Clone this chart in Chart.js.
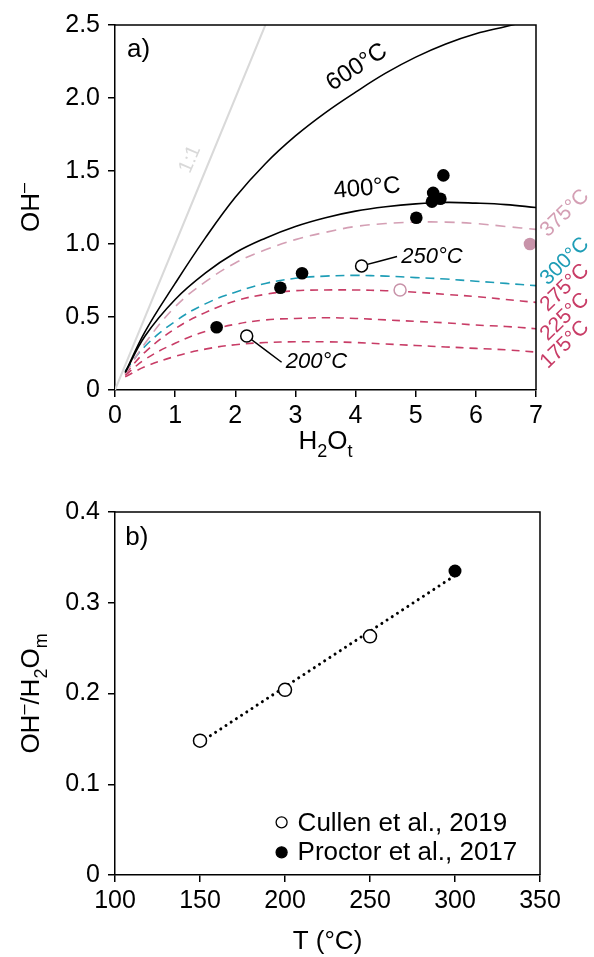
<!DOCTYPE html>
<html>
<head>
<meta charset="utf-8">
<script src="https://cdn.jsdelivr.net/npm/chart.js@4.4.1/dist/chart.umd.min.js"></script>
<style>
  html, body { margin: 0; padding: 0; background: #fff; }
  #wrap { position: relative; width: 594px; height: 957px; }
  #chartA { position: absolute; left: 0; top: 0; }
  #chartB { position: absolute; left: 0; top: 480px; }
</style>
</head>
<body>
<div id="wrap">
  <canvas id="chartA" width="594" height="480"></canvas>
  <canvas id="chartB" width="594" height="477"></canvas>
</div>
<script>
"use strict";

// ── Panel a) data: OH- vs H2Ot ───────────────────────────────────────────────
const LINE_1TO1 = [[0, 0], [2.5, 2.5]];
const CURVE_600 = [[0.17,0.12],[0.5,0.40],[1,0.73],[1.5,1.04],[2,1.32],[2.5,1.55],[3,1.74],[3.5,1.90],[4,2.04],[4.5,2.17],[5,2.28],[5.5,2.37],[6,2.44],[6.5,2.49],[6.7,2.51]];
const CURVE_400 = [[0.17,0.12],[0.5,0.37],[1,0.62],[1.5,0.80],[2,0.94],[2.5,1.04],[3,1.12],[3.5,1.18],[4,1.225],[4.5,1.255],[5,1.275],[5.5,1.285],[6,1.28],[6.5,1.27],[7,1.25]];
const CURVE_375 = [[0.17,0.11],[0.5,0.32],[1,0.57],[1.5,0.74],[2,0.87],[2.5,0.96],[3,1.03],[3.5,1.08],[4,1.12],[4.5,1.14],[5,1.15],[5.5,1.15],[6,1.14],[6.5,1.12],[7,1.10]];
const CURVE_300 = [[0.17,0.13],[0.5,0.30],[1,0.47],[1.5,0.59],[2,0.67],[2.5,0.73],[3,0.765],[3.5,0.78],[4,0.785],[4.5,0.78],[5,0.77],[5.5,0.76],[6,0.745],[6.5,0.73],[7,0.715]];
const CURVE_275 = [[0.17,0.11],[0.5,0.26],[1,0.42],[1.5,0.53],[2,0.61],[2.5,0.655],[3,0.68],[3.5,0.685],[4,0.685],[4.5,0.68],[5,0.67],[5.5,0.655],[6,0.64],[6.5,0.62],[7,0.60]];
const CURVE_225 = [[0.17,0.10],[0.5,0.21],[1,0.32],[1.5,0.40],[2,0.45],[2.5,0.48],[3,0.49],[3.5,0.495],[4,0.49],[4.5,0.48],[5,0.47],[5.5,0.46],[6,0.445],[6.5,0.435],[7,0.42]];
const CURVE_175 = [[0.17,0.09],[0.5,0.16],[1,0.23],[1.5,0.28],[2,0.31],[2.5,0.325],[3,0.33],[3.5,0.33],[4,0.325],[4.5,0.315],[5,0.305],[5.5,0.295],[6,0.285],[6.5,0.275],[7,0.26]];

const PROCTOR_H2O = [1.69, 2.75, 3.11, 5.01, 5.27, 5.29, 5.41, 5.46];
const PROCTOR_OH  = [0.43, 0.70, 0.80, 1.18, 1.29, 1.35, 1.31, 1.47];
const CULLEN_H2O  = [2.19, 4.10];
const CULLEN_OH   = [0.37, 0.85];
const PINK_FILLED = [[6.90, 1.00]];
const PINK_OPEN   = [[4.74, 0.685]];
const LEADER_250  = [[4.10, 0.85], [4.69, 0.915]];
const LEADER_200  = [[2.19, 0.37], [2.77, 0.19]];

const X_TICKS_A = ["0", "1", "2", "3", "4", "5", "6", "7"];
const Y_TICKS_A = ["0", "0.5", "1.0", "1.5", "2.0", "2.5"];
const RIGHT_LABELS = ["375°C", "300°C", "275°C", "225°C", "175°C"];

// ── Panel b) data: OH-/H2Om vs T ─────────────────────────────────────────────
const T_CULLEN      = [150, 200, 250];
const RATIO_CULLEN  = [0.148, 0.204, 0.263];
const T_PROCTOR     = [300];
const RATIO_PROCTOR = [0.335];
const FIT_T         = [150, 300];
const FIT_RATIO     = [0.146, 0.330];
const Y_TICKS_B     = ["0", "0.1", "0.2", "0.3", "0.4"];
const LEGEND_B      = ["Cullen et al., 2019", "Proctor et al., 2017"];

const PINK = "#d49fb4", TEAL = "#1e9db6", RED = "#c83c66", GREY = "#d9d9d9";
const FONT = "'Liberation Sans', Arial, sans-serif";

const pts = arr => arr.map(([x, y]) => ({ x, y }));
const zip = (xs, ys) => xs.map((x, i) => ({ x, y: ys[i] }));

// ── Plugins ──────────────────────────────────────────────────────────────────
// free text placed at data coordinates
const textPlugin = {
  id: "texts",
  afterDatasetsDraw(chart, args, opts) {
    const { ctx, scales: { x, y } } = chart;
    (opts.items || []).forEach(t => {
      ctx.save();
      ctx.translate(x.getPixelForValue(t.x), y.getPixelForValue(t.y));
      ctx.rotate((t.rot || 0) * Math.PI / 180);
      ctx.font = t.font;
      ctx.fillStyle = t.color || "#000";
      ctx.textAlign = t.align || "center";
      ctx.textBaseline = "middle";
      ctx.fillText(t.text, 0, 0);
      ctx.restore();
    });
  },
};

// closes the box (top + right edges)
const boxPlugin = {
  id: "box",
  afterDraw(chart) {
    const { ctx, chartArea: a } = chart;
    ctx.save();
    ctx.strokeStyle = "#000";
    ctx.lineWidth = 1.5;
    ctx.beginPath();
    ctx.moveTo(a.left, a.top);
    ctx.lineTo(a.right, a.top);
    ctx.lineTo(a.right, a.bottom);
    ctx.stroke();
    ctx.restore();
  },
};

// axis titles with sub/superscripts
function drawRich(ctx, parts, cx, cy, rot, size) {
  ctx.save();
  ctx.translate(cx, cy);
  ctx.rotate(rot * Math.PI / 180);
  ctx.fillStyle = "#000";
  ctx.textBaseline = "alphabetic";
  const small = Math.round(size * 0.68);
  let w = 0;
  parts.forEach(p => {
    ctx.font = `${p.s ? small : size}px ${FONT}`;
    w += ctx.measureText(p.t).width;
  });
  let xPos = -w / 2;
  const base = size * 0.36;
  parts.forEach(p => {
    ctx.font = `${p.s ? small : size}px ${FONT}`;
    let dy = 0;
    if (p.s === "sub") dy = size * 0.28;
    if (p.s === "sup") dy = -size * 0.38;
    ctx.fillText(p.t, xPos, base + dy);
    xPos += ctx.measureText(p.t).width;
  });
  ctx.restore();
}

const titlePlugin = {
  id: "titles",
  afterDraw(chart, args, opts) {
    const { ctx, chartArea: a } = chart;
    if (opts.x) drawRich(ctx, opts.x, (a.left + a.right) / 2, a.bottom + opts.xOff, 0, 26);
    if (opts.y) drawRich(ctx, opts.y, 30, (a.top + a.bottom) / 2, -90, 26);
  },
};

// legend for panel b
const legendPlugin = {
  id: "legendB",
  afterDraw(chart, args, opts) {
    if (!opts.items) return;
    const { ctx, scales: { x, y } } = chart;
    opts.items.forEach(it => {
      const px = x.getPixelForValue(it.x), py = y.getPixelForValue(it.y);
      ctx.save();
      ctx.beginPath();
      ctx.arc(px, py, 5.5, 0, Math.PI * 2);
      ctx.fillStyle = it.filled ? "#000" : "#fff";
      ctx.fill();
      ctx.lineWidth = 1.3;
      ctx.strokeStyle = "#000";
      ctx.stroke();
      ctx.font = `26px ${FONT}`;
      ctx.fillStyle = "#000";
      ctx.textAlign = "left";
      ctx.textBaseline = "middle";
      ctx.fillText(it.text, px + 16, py + 1);
      ctx.restore();
    });
  },
};

Chart.register(textPlugin, boxPlugin, titlePlugin, legendPlugin);

function axis(min, max, step, fit, labels, pad) {
  return {
    type: "linear", min, max,
    ticks: {
      stepSize: step, color: "#000", padding: pad,
      font: { size: 25, family: FONT },
      callback: labels ? (v, i) => labels[i] : undefined,
    },
    grid: { drawOnChartArea: false, drawTicks: true, tickLength: 7, color: "#000", lineWidth: 1.5 },
    border: { color: "#000", width: 1.5 },
    afterFit: fit,
  };
}

const lineDs = (data, color, dash, width) => ({
  type: "scatter", data: pts(data), showLine: true, pointRadius: 0,
  borderColor: color, borderWidth: width || 1.6, borderDash: dash || [],
  tension: 0.4, fill: false,
});

// ── Chart a) ─────────────────────────────────────────────────────────────────
new Chart(document.getElementById("chartA"), {
  type: "scatter",
  data: {
    datasets: [
      { data: zip(CULLEN_H2O, CULLEN_OH), pointRadius: 6, pointBackgroundColor: "#fff", pointBorderColor: "#000", pointBorderWidth: 1.5 },
      { data: zip(PROCTOR_H2O, PROCTOR_OH), pointRadius: 6.3, pointBackgroundColor: "#000", pointBorderWidth: 0 },
      { data: pts(PINK_FILLED), pointRadius: 6.3, pointBackgroundColor: "#c893a9", pointBorderWidth: 0 },
      { data: pts(PINK_OPEN), pointRadius: 6, pointBackgroundColor: "#fff", pointBorderColor: "#c893a9", pointBorderWidth: 1.5 },
      lineDs(LEADER_250, "#000", [], 1.5),
      lineDs(LEADER_200, "#000", [], 1.5),
      lineDs(CURVE_600, "#000", [], 1.6),
      lineDs(CURVE_400, "#000", [], 1.6),
      lineDs(CURVE_375, PINK, [10, 7]),
      lineDs(CURVE_300, TEAL, [9, 6]),
      lineDs(CURVE_275, RED, [8, 6]),
      lineDs(CURVE_225, RED, [8, 6]),
      lineDs(CURVE_175, RED, [8, 6]),
      lineDs(LINE_1TO1, GREY, [], 2),
    ],
  },
  options: {
    responsive: false, animation: false, events: [],
    layout: { padding: { left: 0, top: 25, right: 58, bottom: 0 } },
    scales: {
      x: axis(0, 7, 1, s => { s.height = 90; }, X_TICKS_A, 4),
      y: axis(0, 2.5, 0.5, s => { s.width = 115; }, Y_TICKS_A, 8),
    },
    plugins: {
      legend: { display: false }, tooltip: { enabled: false },
      titles: {
        x: [{ t: "H" }, { t: "2", s: "sub" }, { t: "O" }, { t: "t", s: "sub" }], xOff: 50,
        y: [{ t: "OH" }, { t: "–", s: "sup" }],
      },
      texts: {
        items: [
          { text: "a)", x: 0.2, y: 2.33, font: `26px ${FONT}`, align: "left" },
          { text: "1:1", x: 1.25, y: 1.58, rot: -67, font: `20px ${FONT}`, color: GREY },
          { text: "600°C", x: 4.02, y: 2.21, rot: -33, font: `24px ${FONT}` },
          { text: "400°C", x: 4.19, y: 1.38, rot: -5, font: `24px ${FONT}` },
          { text: "250°C", x: 5.27, y: 0.91, font: `italic 22px ${FONT}` },
          { text: "200°C", x: 3.35, y: 0.19, font: `italic 22px ${FONT}` },
          { text: RIGHT_LABELS[0], x: 7.48, y: 1.21, rot: -44, font: `21px ${FONT}`, color: PINK },
          { text: RIGHT_LABELS[1], x: 7.48, y: 0.88, rot: -44, font: `21px ${FONT}`, color: TEAL },
          { text: RIGHT_LABELS[2], x: 7.48, y: 0.70, rot: -44, font: `21px ${FONT}`, color: RED },
          { text: RIGHT_LABELS[3], x: 7.48, y: 0.50, rot: -44, font: `21px ${FONT}`, color: RED },
          { text: RIGHT_LABELS[4], x: 7.48, y: 0.31, rot: -44, font: `21px ${FONT}`, color: RED },
        ],
      },
    },
  },
});

// ── Chart b) ─────────────────────────────────────────────────────────────────
new Chart(document.getElementById("chartB"), {
  type: "scatter",
  data: {
    datasets: [
      { data: zip(T_PROCTOR, RATIO_PROCTOR), pointRadius: 6.5, pointBackgroundColor: "#000", pointBorderWidth: 0 },
      { data: zip(T_CULLEN, RATIO_CULLEN), pointRadius: 6.5, pointBackgroundColor: "#fff", pointBorderColor: "#000", pointBorderWidth: 1.5 },
      {
        type: "scatter", data: zip(FIT_T, FIT_RATIO), showLine: true, pointRadius: 0,
        borderColor: "#000", borderWidth: 3, borderDash: [0.01, 6.2], borderCapStyle: "round",
      },
    ],
  },
  options: {
    responsive: false, animation: false, events: [],
    layout: { padding: { left: 0, top: 32, right: 54, bottom: 0 } },
    scales: {
      x: axis(100, 350, 50, s => { s.height = 82; }, null, 4),
      y: axis(0, 0.4, 0.1, s => { s.width = 115; }, Y_TICKS_B, 8),
    },
    plugins: {
      legend: { display: false }, tooltip: { enabled: false },
      titles: {
        x: [{ t: "T (°C)" }], xOff: 65,
        y: [{ t: "OH" }, { t: "–", s: "sup" }, { t: "/H" }, { t: "2", s: "sub" }, { t: "O" }, { t: "m", s: "sub" }],
      },
      texts: {
        items: [{ text: "b)", x: 106, y: 0.372, font: `26px ${FONT}`, align: "left" }],
      },
      legendB: {
        items: [
          { text: LEGEND_B[0], x: 198, y: 0.058, filled: false },
          { text: LEGEND_B[1], x: 198, y: 0.025, filled: true },
        ],
      },
    },
  },
});
</script>
</body>
</html>
